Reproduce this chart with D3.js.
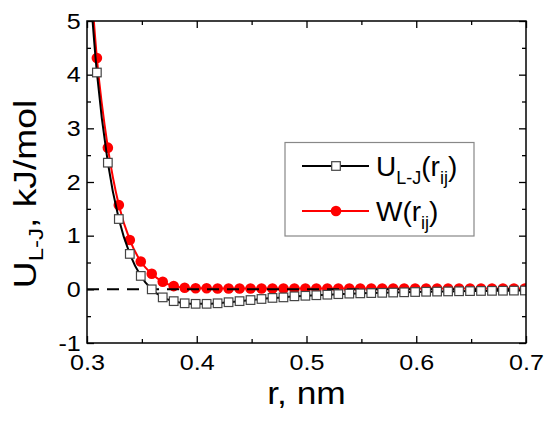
<!DOCTYPE html>
<html>
<head>
<meta charset="utf-8">
<script src="https://cdn.jsdelivr.net/npm/d3@7"></script>
<style>
  html, body { margin: 0; padding: 0; background: #fff; }
  svg { display: block; font-family: "Liberation Sans", Arial, sans-serif; }
</style>
</head>
<body>
<svg width="550" height="421"></svg>
<script>
// Distances r (nm) of the plotted points
const rValues = [0.309, 0.319, 0.329, 0.339, 0.349, 0.359, 0.369, 0.379, 0.389, 0.399,
                 0.409, 0.419, 0.429, 0.439, 0.449, 0.459, 0.469, 0.479, 0.489, 0.499,
                 0.509, 0.519, 0.529, 0.539, 0.549, 0.559, 0.569, 0.579, 0.589, 0.599,
                 0.609, 0.619, 0.629, 0.639, 0.649, 0.659, 0.669, 0.679, 0.689, 0.699];
// U_L-J(r_ij), kJ/mol
const uValues = [4.04, 2.36, 1.31, 0.66, 0.25, 0.00, -0.15, -0.22, -0.26, -0.27,
                 -0.27, -0.26, -0.24, -0.22, -0.20, -0.18, -0.16, -0.15, -0.13, -0.12,
                 -0.11, -0.10, -0.09, -0.08, -0.075, -0.07, -0.065, -0.06, -0.055, -0.05,
                 -0.045, -0.042, -0.039, -0.036, -0.033, -0.03, -0.028, -0.026, -0.024, -0.022];
// W(r_ij), kJ/mol
const wValues = [4.31, 2.64, 1.57, 0.92, 0.52, 0.29, 0.14, 0.06, 0.03, 0.02,
                 0.02, 0.015, 0.015, 0.015, 0.015, 0.015, 0.015, 0.015, 0.015, 0.015,
                 0.015, 0.015, 0.015, 0.015, 0.015, 0.015, 0.015, 0.015, 0.015, 0.015,
                 0.015, 0.015, 0.015, 0.015, 0.015, 0.015, 0.015, 0.015, 0.015, 0.015];
// where the smooth curves come in from above the frame
const curveHeadR = 0.300;
const curveHeadU = 6.4;
const curveHeadW = 6.8;

const xTicks = [0.3, 0.4, 0.5, 0.6, 0.7];
const xMinorTicks = [0.35, 0.45, 0.55, 0.65];
const yTicks = [-1, 0, 1, 2, 3, 4, 5];
const yMinorTicks = [-0.5, 0.5, 1.5, 2.5, 3.5, 4.5];

const svg = d3.select("svg");
const margin = { top: 21, right: 24, bottom: 78, left: 87 };
const width = 550 - margin.left - margin.right,
      height = 421 - margin.top - margin.bottom;

// the original lettering is a little wider than Arial
const stretch = 1.14;

const x = d3.scaleLinear().domain([0.3, 0.7]).range([margin.left, margin.left + width]);
const y = d3.scaleLinear().domain([-1, 5]).range([margin.top + height, margin.top]);

svg.append("defs").append("clipPath").attr("id", "plot-clip")
    .append("rect")
    .attr("x", margin.left).attr("y", margin.top)
    .attr("width", width).attr("height", height);

// ticks (all pointing inwards), labels on bottom and left only
function styleAxis(g) {
    g.select(".domain").remove();
    g.selectAll("line").attr("stroke", "#000").attr("stroke-width", 1.3);
    g.selectAll("text").attr("fill", "#000").style("font-size", "22px")
        .style("font-family", "'Liberation Sans', Arial, sans-serif")
        .attr("transform", `scale(${stretch},1)`);
}

svg.append("g").attr("transform", `translate(0,${y(-1)})`)
    .call(d3.axisBottom(x).tickValues(xTicks).tickSize(-7).tickPadding(11).tickFormat(d3.format(".1f")))
    .call(styleAxis);
svg.append("g").attr("transform", `translate(0,${y(-1)})`)
    .call(d3.axisBottom(x).tickValues(xMinorTicks).tickSize(-4).tickFormat(""))
    .call(styleAxis);
svg.append("g").attr("transform", `translate(0,${y(5)})`)
    .call(d3.axisTop(x).tickValues(xTicks).tickSize(-7).tickFormat(""))
    .call(styleAxis);
svg.append("g").attr("transform", `translate(0,${y(5)})`)
    .call(d3.axisTop(x).tickValues(xMinorTicks).tickSize(-4).tickFormat(""))
    .call(styleAxis);

// plain hyphen for the minus sign, as in the original
svg.append("g").attr("transform", `translate(${x(0.3)},0)`)
    .call(d3.axisLeft(y).tickValues(yTicks).tickSize(-7).tickPadding(5.5).tickFormat(d => String(d)))
    .call(styleAxis);
svg.append("g").attr("transform", `translate(${x(0.3)},0)`)
    .call(d3.axisLeft(y).tickValues(yMinorTicks).tickSize(-4).tickFormat(""))
    .call(styleAxis);
svg.append("g").attr("transform", `translate(${x(0.7)},0)`)
    .call(d3.axisRight(y).tickValues(yTicks).tickSize(-7).tickFormat(""))
    .call(styleAxis);
svg.append("g").attr("transform", `translate(${x(0.7)},0)`)
    .call(d3.axisRight(y).tickValues(yMinorTicks).tickSize(-4).tickFormat(""))
    .call(styleAxis);

const plot = svg.append("g").attr("clip-path", "url(#plot-clip)");

const uCurve = [{ r: curveHeadR, v: curveHeadU }].concat(rValues.map((r, i) => ({ r, v: uValues[i] })));
const wCurve = [{ r: curveHeadR, v: curveHeadW }].concat(rValues.map((r, i) => ({ r, v: wValues[i] })));

const line = d3.line().x(d => x(d.r)).y(d => y(d.v)).curve(d3.curveMonotoneX);

// W(r) in red
plot.append("path").datum(wCurve)
    .attr("d", line).attr("fill", "none")
    .attr("stroke", "#ff0000").attr("stroke-width", 2);
plot.append("g").selectAll("circle")
    .data(rValues)
    .enter().append("circle")
    .attr("cx", d => x(d))
    .attr("cy", (d, i) => y(wValues[i]))
    .attr("r", 5.3)
    .attr("fill", "#ff0000");

// zero reference
plot.append("line")
    .attr("x1", x(0.3)).attr("x2", x(0.7))
    .attr("y1", y(0)).attr("y2", y(0))
    .attr("stroke", "#000").attr("stroke-width", 2)
    .attr("stroke-dasharray", "12 8");

// U_L-J(r) in black with open squares
plot.append("path").datum(uCurve)
    .attr("d", line).attr("fill", "none")
    .attr("stroke", "#000").attr("stroke-width", 2);
plot.append("g").selectAll("rect")
    .data(rValues)
    .enter().append("rect")
    .attr("x", d => x(d) - 4.3)
    .attr("y", (d, i) => y(uValues[i]) - 4.3)
    .attr("width", 8.6).attr("height", 8.6)
    .attr("fill", "#fff")
    .attr("stroke", "#444").attr("stroke-width", 1.2);

// frame
svg.append("rect")
    .attr("x", margin.left).attr("y", margin.top)
    .attr("width", width).attr("height", height)
    .attr("fill", "none").attr("stroke", "#000").attr("stroke-width", 1.5);

// axis titles
svg.append("text")
    .attr("transform", `translate(${x(0.5)},404) scale(${stretch},1)`)
    .attr("text-anchor", "middle")
    .style("font-size", "31px")
    .text("r, nm");

const yTitle = svg.append("text")
    .attr("transform", `translate(36,194) rotate(-90) scale(1.2,1)`)
    .attr("text-anchor", "middle")
    .style("font-size", "31px");
yTitle.append("tspan").text("U");
yTitle.append("tspan").attr("dy", 7).style("font-size", "20px").text("L-J");
yTitle.append("tspan").attr("dy", -7).text(", kJ/mol");

// legend
const legend = svg.append("g");
legend.append("rect")
    .attr("x", 285).attr("y", 142.5)
    .attr("width", 189).attr("height", 93.5)
    .attr("fill", "#fff").attr("stroke", "#888").attr("stroke-width", 1.2);

const legendRows = [
    { y: 166, color: "#000", label: "U", sub: "L-J", marker: "square" },
    { y: 211, color: "#ff0000", label: "W", sub: null, marker: "circle" }
];
legendRows.forEach(row => {
    legend.append("line")
        .attr("x1", 302).attr("x2", 369)
        .attr("y1", row.y).attr("y2", row.y)
        .attr("stroke", row.color).attr("stroke-width", 2);
    if (row.marker === "square") {
        legend.append("rect")
            .attr("x", 336 - 4.3).attr("y", row.y - 4.3)
            .attr("width", 8.6).attr("height", 8.6)
            .attr("fill", "#fff").attr("stroke", "#444").attr("stroke-width", 1.2);
    } else {
        legend.append("circle")
            .attr("cx", 336).attr("cy", row.y).attr("r", 5.3)
            .attr("fill", "#ff0000");
    }
    const t = legend.append("text")
        .attr("x", 376).attr("y", row.y + 10)
        .style("font-size", "28px");
    t.append("tspan").text(row.label);
    if (row.sub) {
        t.append("tspan").attr("dy", 8).style("font-size", "18px").text(row.sub);
        t.append("tspan").attr("dy", -8).text("(r");
    } else {
        t.append("tspan").text("(r");
    }
    t.append("tspan").attr("dy", 8).style("font-size", "18px").text("ij");
    t.append("tspan").attr("dy", -8).text(")");
});
</script>
</body>
</html>
